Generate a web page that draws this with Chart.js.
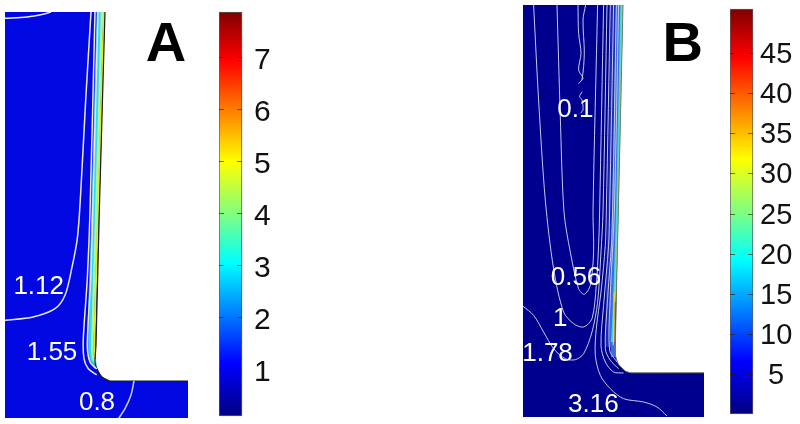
<!DOCTYPE html>
<html>
<head>
<meta charset="utf-8">
<style>
  html, body { margin: 0; background: #fff; }
  .box { position: absolute; }
</style>
<script src="https://cdn.jsdelivr.net/npm/chart.js@4"></script>
</head>
<body>
<div class="box" style="left:5px;top:12px;width:183px;height:406px"><canvas id="panelA"></canvas></div>
<div class="box" style="left:219px;top:0;width:60px;height:424px"><canvas id="barA"></canvas></div>
<div class="box" style="left:523px;top:5px;width:181px;height:412px"><canvas id="panelB"></canvas></div>
<div class="box" style="left:730px;top:0;width:70px;height:424px"><canvas id="barB"></canvas></div>
<script>
// Panel A: outline of the domain and the lines along the wall
const domainA = [[0,406],[100,406],[94.3,206],[91,73],[90,56],[92,49],[97,41],[105,37],[183,37]];
const edgeA = [[100,406],[94.3,206],[91,73],[90,56],[92,49],[97,41],[105,37],[183,37]];
const skyA = [[93,406],[87.7,206],[84,73],[86,57],[91,50]];
const cyanA = [[95,406],[89.5,206],[85.5,73],[87,59],[91,53]];
const paleA = [[97,406],[91.3,206],[87.3,73],[88,60],[91,55]];
const yellowA = [[99,406],[93,206],[89.3,73],[89.5,60]];

// Panel A: contours
const cornerA = [[0,399.7],[22,401],[38,403.7],[46,406]];
const contour112 = [[86,406],[80.7,318],[75.3,218],[72.3,179.3],[66.7,149.3],[60,122.7],[50,109.3],[28,101],[0,97.7]];
const contour155 = [[90,406],[85,206],[82.3,139.3],[78.3,79.3],[79,59.3],[83.3,49.3],[91.7,43]];
const contour155b = [[93,406],[87.7,206],[85.7,139.3],[82.3,73],[85,56],[91.7,49]];
const contour08 = [[129,37],[126,23],[120,9.3],[113.3,-1]];

// Panel B: outline and wall lines
const domainB = [[0,412],[100,412],[95.3,205],[92.3,62],[95.3,53],[102.3,46],[107.3,44.3],[181,44.3]];
const edgeB = [[100,412],[95.3,205],[92.3,62],[95.3,53],[102.3,46],[107.3,44.3],[181,44.3]];
const deepB = [[92.5,412],[89,205],[87,100],[87.5,70]];
const blueB = [[95.5,412],[91.5,205],[89,90],[90.6,60]];
const cyanB = [[98.3,412],[94,205],[90.6,105],[89,75]];
const greenB = [[99.3,412],[95,205],[91.6,105],[90.3,71.7]];
const yellowB = [[91.5,125],[90.8,75]];
const redB = [[92.2,115],[91.8,72]];

// Panel B: contours
const contour01 = [[55,412],[55.6,383.7],[58,363.7],[55.6,347],[60,338.7],[55.6,333.7],[59,337.7],[61.3,363.7],[60,397],[62.6,412]];
const contour01b = [[59,325.3],[56.6,320.3],[59,317],[60,307],[57.3,303.7]];
const contour056 = [[34,412],[37.3,300.3],[41,205],[47.3,165],[55.6,128.3],[61.3,122.7],[67.3,131.7],[70.6,165],[70,205],[74.6,412]];
const contour1 = [[10.6,412],[15.6,317],[22.3,217],[30.6,148.3],[40.6,105],[50.6,93.3],[60.6,90],[69,98.3],[73.3,131.7],[75.6,171.7],[76.6,205],[80.6,412]];
const contour178 = [[0,110.7],[10.6,101.7],[20.6,85],[30.6,68.3],[42.3,58.3],[52.3,57.3],[60.6,63.3],[69,85],[74.6,115],[78,165],[80,205],[84,412]];
const contour316 = [[144,1],[134,10],[120.6,15],[100.6,18.3],[87.3,28.3],[77.3,41.7],[72.3,61.7],[73.3,88.3],[78,125],[82.3,171.7],[83.3,205],[87.3,412]];
const contour562 = [[100.6,44],[90.6,45],[82.3,55],[78,71.7],[80.6,111.7],[85.6,171.7],[86.6,205],[90.6,412]];
const contour10 = [[95.6,48.3],[87.3,56.7],[82.3,68.3],[84.6,118.3],[89,185],[93.3,412]];
const contour178b = [[94,55],[86.6,66.7],[87.3,121.7],[91.3,205],[95.6,412]];

// Text inside the panels
const labelsA = ['1.12', '1.55', '0.8'];
const labelPosA = [[33.7,124.3],[47,57.7],[92,7.7]];
const labelsB = ['0.1', '0.56', '1', '1.78', '3.16'];
const labelPosB = [[52.3,299.7],[53,132.3],[37.3,91],[24.5,56],[70.3,5]];

// Colour bars
const ticksA = [1, 2, 3, 4, 5, 6, 7];
const rangeA = [0.115, 7.88];
const ticksB = [5, 10, 15, 20, 25, 30, 35, 40, 45];
const rangeB = [0.15, 50.5];
const jetStops = [
  [0, '#800000'], [0.12, '#ff0000'], [0.245, '#ff8000'], [0.37, '#ffff00'],
  [0.5, '#80ff80'], [0.62, '#00ffff'], [0.745, '#0080ff'], [0.87, '#0000ff'], [1, '#000080']
];

function line(points, color, width) {
  return { data: points, borderColor: color, borderWidth: width, pointRadius: 0, showLine: true, tension: 0.3, fill: false };
}

// Dibuja los textos de cada panel en coordenadas de datos
const panelText = {
  id: 'panelText',
  afterDatasetsDraw(chart, args, opts) {
    const { ctx, scales } = chart;
    ctx.save();
    ctx.textAlign = 'center';
    ctx.textBaseline = 'alphabetic';
    ctx.fillStyle = '#fff';
    ctx.font = '26px "Liberation Sans"';
    opts.labels.forEach((txt, i) => {
      ctx.fillText(txt, scales.x.getPixelForValue(opts.pos[i][0]), scales.y.getPixelForValue(opts.pos[i][1]));
    });
    ctx.fillStyle = '#000';
    ctx.font = 'bold 56px "Liberation Sans"';
    ctx.fillText(opts.letter, scales.x.getPixelForValue(opts.letterPos[0]), scales.y.getPixelForValue(opts.letterPos[1]));
    ctx.restore();
  }
};

// El primer dataset se pinta encima, por eso se invierte la lista
function makePanel(id, xMax, yMax, datasets, text) {
  return new Chart(document.getElementById(id), {
    type: 'scatter',
    data: { datasets: datasets.reverse() },
    plugins: [panelText],
    options: {
      responsive: true,
      maintainAspectRatio: false,
      animation: false,
      layout: { padding: 0 },
      scales: {
        x: { type: 'linear', display: false, min: 0, max: xMax },
        y: { type: 'linear', display: false, min: 0, max: yMax }
      },
      plugins: { legend: { display: false }, tooltip: { enabled: false }, panelText: text }
    }
  });
}

function makeBar(id, ticks, range, fontSize, padTop, padBottom, labelPad, labelShift) {
  return new Chart(document.getElementById(id), {
    type: 'bar',
    data: {
      labels: [''],
      datasets: [{
        data: [range],
        barPercentage: 1,
        categoryPercentage: 1,
        clip: false,
        borderSkipped: false,
        borderWidth: 1,
        borderColor: '#5a5a5a',
        backgroundColor(c) {
          const area = c.chart.chartArea;
          if (!area) return '#000080';
          const g = c.chart.ctx.createLinearGradient(0, area.top, 0, area.bottom);
          jetStops.forEach(s => g.addColorStop(s[0], s[1]));
          return g;
        }
      }]
    },
    options: {
      responsive: true,
      maintainAspectRatio: false,
      animation: false,
      layout: { padding: { top: padTop, bottom: padBottom } },
      scales: {
        x: { display: false },
        y: {
          position: 'right',
          min: range[0],
          max: range[1],
          afterBuildTicks(scale) { scale.ticks = ticks.map(v => ({ value: v })); },
          afterFit(scale) {
            scale.width = scale.chart.width - 23;
            scale.paddingTop = 0;
            scale.paddingBottom = 0;
          },
          border: { display: false, dash: [5, 13] },
          grid: { color: 'rgba(50,30,0,0.65)', drawTicks: false, z: 1 },
          ticks: {
            crossAlign: 'center',
            padding: labelPad,
            labelOffset: labelShift,
            color: '#111',
            font: { family: '"Liberation Sans"', size: fontSize }
          }
        }
      },
      plugins: { legend: { display: false }, tooltip: { enabled: false } }
    }
  });
}

const contourA = '#e6e8ff';
makePanel('panelA', 183, 406, [
  Object.assign(line(domainA, 'rgba(0,0,0,0)', 0), { tension: 0, fill: { value: 0 }, backgroundColor: '#0208e2' }),
  line(skyA, '#3f9af2', 3),
  line(cyanA, '#22e2e6', 3),
  line(paleA, '#a8f2b8', 2.5),
  line(yellowA, '#d8ee20', 2),
  Object.assign(line(edgeA, '#1c1c10', 1.2), { tension: 0.15 }),
  line(cornerA, contourA, 1.5),
  line(contour112, contourA, 1.5),
  line(contour155, contourA, 1.5),
  line(contour155b, contourA, 1.5),
  line(contour08, '#c8ccff', 1.5)
], { labels: labelsA, pos: labelPosA, letter: 'A', letterPos: [161, 357] });

const contourB = '#c4c8ee';
makePanel('panelB', 181, 412, [
  Object.assign(line(domainB, 'rgba(0,0,0,0)', 0), { tension: 0, fill: { value: 0 }, backgroundColor: '#00008e' }),
  line(deepB, '#1a2cb4', 9),
  line(blueB, '#3d6ee0', 5),
  line(cyanB, '#40d8e8', 2),
  line(greenB, '#90d890', 1.5),
  line(yellowB, '#d0e040', 1.5),
  Object.assign(line(edgeB, '#6f7a60', 1), { tension: 0.15 }),
  line(redB, 'rgba(176,48,32,0.7)', 1),
  line(contour01, contourB, 1),
  line(contour01b, contourB, 1),
  line(contour056, contourB, 1),
  line(contour1, contourB, 1),
  line(contour178, contourB, 1),
  line(contour316, contourB, 1),
  line(contour562, contourB, 1),
  line(contour10, contourB, 1),
  line(contour178b, contourB, 1)
], { labels: labelsB, pos: labelPosB, letter: 'B', letterPos: [159.8, 356] });

makeBar('barA', ticksA, rangeA, 30, 12, 8, 12, 2.5);
makeBar('barB', ticksB, rangeB, 29, 9, 10, 7, 1.5);
</script>
</body>
</html>
